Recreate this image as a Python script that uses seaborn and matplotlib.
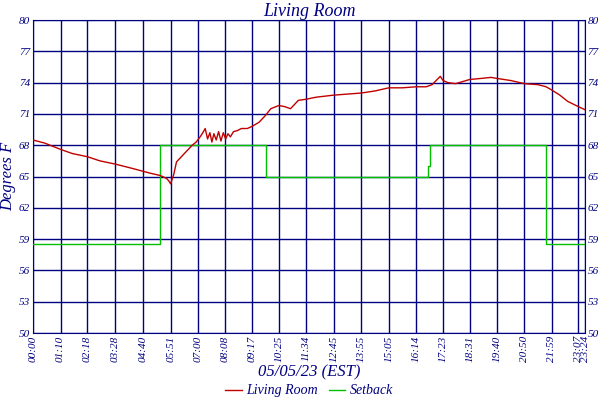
import matplotlib
matplotlib.use("Agg")
import matplotlib.pyplot as plt
import seaborn as sns
import pandas as pd

# minutes since midnight / degrees F
temp_min = [0, 30, 70, 100, 138, 170, 208, 250, 280, 300, 323, 335, 340, 345, 350, 358, 365,
            375, 390, 405, 415, 425, 432, 438, 444, 450, 455, 460, 466, 472, 478, 484, 490,
            496, 502, 510, 520, 530, 545, 557, 575, 590, 605, 625, 640, 655, 675, 694, 720,
            765, 800, 835, 870, 905, 940, 974, 1000, 1015, 1028, 1036, 1043, 1055, 1075,
            1111, 1140, 1165, 1180, 1215, 1250, 1285, 1305, 1319, 1340, 1360, 1387, 1404]
temp_val = [68.5, 68.2, 67.6, 67.2, 66.9, 66.5, 66.2, 65.8, 65.5, 65.3, 65.1, 64.9, 64.8, 64.6, 64.3, 65.2, 66.4,
            66.8, 67.4, 68.0, 68.3, 68.8, 69.2, 69.6, 68.6, 69.2, 68.3, 69.1, 68.5, 69.3, 68.4, 69.2, 68.6,
            69.1, 68.8, 69.3, 69.4, 69.6, 69.6, 69.8, 70.2, 70.8, 71.5, 71.8, 71.7, 71.5, 72.3, 72.4, 72.6,
            72.8, 72.9, 73.0, 73.2, 73.5, 73.5, 73.6, 73.6, 73.8, 74.3, 74.6, 74.2, 74.0, 73.9,
            74.3, 74.4, 74.5, 74.4, 74.2, 73.9, 73.8, 73.6, 73.3, 72.8, 72.2, 71.7, 71.4]

setback_min = [0, 323, 592, 1005, 1010, 1305, 1404]
setback_val = [58.5, 68.0, 65.0, 66.0, 68.0, 58.5, 58.5]

tick_min = [0, 70, 138, 208, 280, 351, 420, 488, 557, 625, 694, 765, 835, 905, 974,
            1043, 1111, 1180, 1250, 1319, 1387, 1404]
tick_labels = ["00:00", "01:10", "02:18", "03:28", "04:40", "05:51", "07:00", "08:08", "09:17",
               "10:25", "11:34", "12:45", "13:55", "15:05", "16:14", "17:23", "18:31", "19:40",
               "20:50", "21:59", "23:07", "23:24"]
y_ticks = [50, 53, 56, 59, 62, 65, 68, 71, 74, 77, 80]

navy = "#000080"
font = {"family": "Liberation Serif", "style": "italic", "color": navy}

fig = plt.figure(figsize=(6, 4), dpi=100)
ax = fig.add_axes([0.055, 0.1675, 0.92, 0.7825])

temp = pd.DataFrame({"t": temp_min, "v": temp_val})
sb = pd.DataFrame({"t": setback_min, "v": setback_val})
sns.lineplot(data=temp, x="t", y="v", ax=ax, color="#c00000", lw=1, label="Living Room", zorder=4)
ax.plot(sb["t"], sb["v"], drawstyle="steps-post", color="#00c000", lw=1, label="Setback", zorder=3)

ax.set_xlim(0, 1404)
ax.set_ylim(50, 80)
ax.set_xticks(tick_min)
ax.set_xticklabels(tick_labels, rotation=90, fontsize=8, fontstyle="italic",
                   family="Liberation Serif", color=navy)
ax.set_yticks(y_ticks)
ax.set_yticklabels(y_ticks, fontsize=8, fontstyle="italic", family="Liberation Serif", color=navy)
ax.tick_params(axis="both", length=0, pad=2, colors=navy)
ax.tick_params(axis="y", labelright=True)
ax.grid(True, color=navy, lw=1)
ax.set_axisbelow(True)
for s in ax.spines.values():
    s.set_color(navy)

ax.set_title("Living Room", fontsize=13, pad=2, **font)
ax.set_xlabel("05/05/23 (EST)", fontsize=12, labelpad=2, **font)
ax.set_ylabel("Degrees F", fontsize=12, labelpad=2, **font)

leg = ax.legend(loc="center", bbox_to_anchor=(0.5, -0.185), ncol=2, frameon=False,
                prop={"family": "Liberation Serif", "style": "italic", "size": 10},
                handlelength=1.2, columnspacing=0.8, handletextpad=0.3, borderpad=0)
for t in leg.get_texts():
    t.set_color(navy)

fig.savefig("out.png", dpi=100)
